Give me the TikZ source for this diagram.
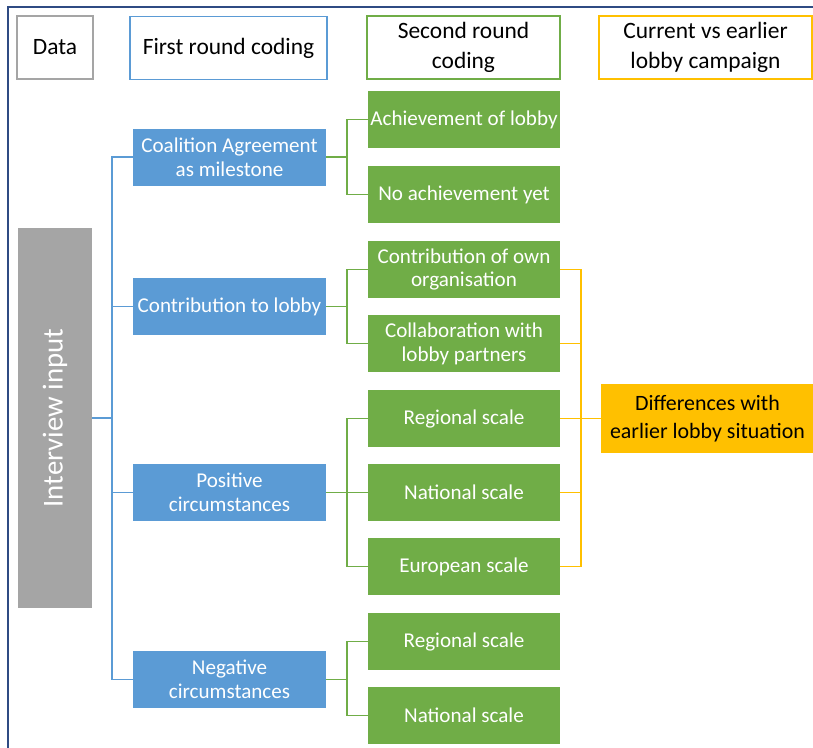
\documentclass[tikz,border=0pt]{standalone}
\usepackage{fontspec}
\setmainfont{Carlito}
\usepackage{tikz}
\usetikzlibrary{positioning}

\definecolor{frameblue}{HTML}{2F4B83}
\definecolor{codeblue}{HTML}{5B9BD5}
\definecolor{codegreen}{HTML}{70AD47}
\definecolor{codeyellow}{HTML}{FFC000}
\definecolor{datagray}{HTML}{A5A5A5}

\begin{document}
\begin{tikzpicture}[x=0.03cm, y=-0.03cm,
		txt/.style={font=\fontsize{18}{20.4}\selectfont},
		head/.style={font=\fontsize{20}{25.5}\selectfont, draw, line width=1.2pt, fill=white, align=center, inner sep=0pt, minimum height=1.89cm},
		blubox/.style={txt, fill=codeblue, text=white, align=center, inner sep=0pt, minimum width=5.79cm, minimum height=1.71cm},
		grnbox/.style={txt, fill=codegreen, text=white, align=center, inner sep=0pt, minimum width=5.76cm, minimum height=1.71cm},
		bline/.style={draw=codeblue, line width=1.3pt},
		gline/.style={draw=codegreen, line width=1.3pt},
		yline/.style={draw=codeyellow, line width=1.3pt}]
		\useasboundingbox (0,0) rectangle (813,747);

		% frame
		\draw[frameblue, line width=1.6pt] (8,760) -- (8,7) -- (830,7);

		% column heads
		\node[head, draw=datagray, minimum width=2.28cm] (hdata) at (55,47.5) {Data};
		\node[head, draw=codeblue, minimum width=5.91cm] (hfirst) at (228.5,48) {First round coding};
		\node[head, draw=codegreen, minimum width=5.79cm] (hsecond) at (463.5,47.5) {Second round\\coding};
		\node[head, draw=codeyellow, minimum width=6.39cm] (hcurrent) at (705.5,47.5) {Current vs earlier\\lobby campaign};

		% data
		\node[fill=datagray, minimum width=2.22cm, minimum height=11.4cm, inner sep=0pt] (input) at (55,418) {};
		\node[rotate=90, text=white, font=\fontsize{24.6}{28}\selectfont] at (input.center) {Interview input};

		% first round
		\node[blubox] (coal) at (229.5,157) {Coalition Agreement\\as milestone};
		\node[blubox] (contr) at (229.5,306.5) {Contribution to lobby};
		\node[blubox] (pos) at (229.5,492.5) {Positive\\circumstances};
		\node[blubox] (neg) at (229.5,679.5) {Negative\\circumstances};

		% second round
		\node[grnbox] (ach) at (464,119.5) {Achievement of lobby};
		\node[grnbox] (noach) at (464,194.5) {No achievement yet};
		\node[grnbox] (own) at (464,269.5) {Contribution of own\\organisation};
		\node[grnbox] (collab) at (464,343.5) {Collaboration with\\lobby partners};
		\node[grnbox] (preg) at (464,418.5) {Regional scale};
		\node[grnbox] (pnat) at (464,492.5) {National scale};
		\node[grnbox] (peur) at (464,566.5) {European scale};
		\node[grnbox] (nreg) at (464,641.5) {Regional scale};
		\node[grnbox] (nnat) at (464,715.5) {National scale};

		% earlier lobby
		\node[font=\fontsize{18.7}{23.5}\selectfont, fill=codeyellow, align=center, inner sep=0pt, minimum width=6.39cm, minimum height=2.07cm] (diff) at (707.5,418.5) {Differences with\\earlier lobby situation};

		% connectors
		\foreach \b in {coal, contr, pos, neg}
			\draw[bline] (input.east) -- ++(20,0) |- (\b.west);
		\foreach \a/\b in {coal/ach, coal/noach, contr/own, contr/collab, pos/preg, pos/pnat, pos/peur, neg/nreg, neg/nnat}
			\draw[gline] (\a.east) -- ++(21,0) |- (\b.west);
		\foreach \a in {own, collab, preg, pnat, peur}
			\draw[yline] (\a.east) -- ++(21,0) |- (diff.west);
	\end{tikzpicture}
\end{document}
